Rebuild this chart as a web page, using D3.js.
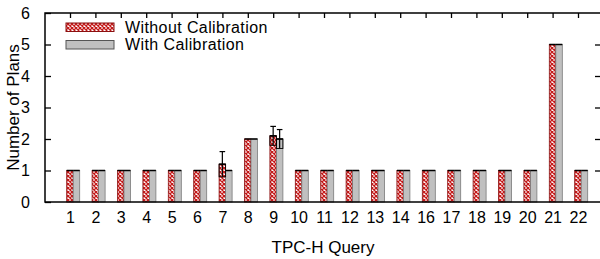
<!DOCTYPE html>
<html>
<head>
<meta charset="utf-8">
<script src="https://cdn.jsdelivr.net/npm/d3@7"></script>
<style>
  body { margin: 0; background: #fff; }
  svg text { font-family: "Liberation Sans", Arial, sans-serif; fill: #000; }
</style>
</head>
<body>
<div id="vis"></div>
<script>
// Chart data
var queries = ['1', '2', '3', '4', '5', '6', '7', '8', '9', '10', '11', '12', '13', '14', '16', '17', '18', '19', '20', '21', '22'];
var withoutCal = [1, 1, 1, 1, 1, 1, 1.2, 2, 2.1, 1, 1, 1, 1, 1, 1, 1, 1, 1, 1, 5, 1];
var withoutErr = [0, 0, 0, 0, 0, 0, 0.4, 0, 0.3, 0, 0, 0, 0, 0, 0, 0, 0, 0, 0, 0, 0];
var withCal = [1, 1, 1, 1, 1, 1, 1, 2, 2, 1, 1, 1, 1, 1, 1, 1, 1, 1, 1, 5, 1];
var withErr = [0, 0, 0, 0, 0, 0, 0, 0, 0.3, 0, 0, 0, 0, 0, 0, 0, 0, 0, 0, 0, 0];
var yTicks = [0, 1, 2, 3, 4, 5, 6];
var seriesNames = ['Without Calibration', 'With Calibration'];

var width = 600, height = 259;
var margin = {top: 13, right: -1, bottom: 57, left: 45};
var plotRight = width - margin.right;
var plotBottom = height - margin.bottom;

var svg = d3.select('#vis').append('svg')
    .attr('width', width)
    .attr('height', height);

var defs = svg.append('defs');
var pat = defs.append('pattern')
    .attr('id', 'checks')
    .attr('patternUnits', 'userSpaceOnUse')
    .attr('width', 4).attr('height', 4);
pat.append('rect').attr('width', 4).attr('height', 4).attr('fill', '#fff');
pat.append('path')
    .attr('d', 'M0,0 L4,4 M4,0 L0,4')
    .attr('stroke', '#c41a1a')
    .attr('stroke-width', 1.3);

// scales
var xScale = d3.scalePoint()
    .domain(queries)
    .range([70, 578]);

var yScale = d3.scaleLinear()
    .domain([0, 6])
    .range([plotBottom, margin.top]);

var barW = 6.5;
var off1 = -3.3;

// bars
var rows = queries.map(function(q, i) {
    return {q: q, a: withoutCal[i], ae: withoutErr[i], b: withCal[i], be: withErr[i]};
});

var g = svg.append('g');

g.selectAll('rect.wo').data(rows).enter().append('rect')
    .attr('class', 'wo')
    .attr('x', function(d) { return xScale(d.q) + off1; })
    .attr('y', function(d) { return yScale(d.a); })
    .attr('width', barW)
    .attr('height', function(d) { return plotBottom - yScale(d.a); })
    .attr('fill', 'url(#checks)')
    .attr('stroke', '#8a1010')
    .attr('stroke-width', 0.8);

g.selectAll('rect.wi').data(rows).enter().append('rect')
    .attr('class', 'wi')
    .attr('x', function(d) { return xScale(d.q) + off1 + barW; })
    .attr('y', function(d) { return yScale(d.b); })
    .attr('width', barW)
    .attr('height', function(d) { return plotBottom - yScale(d.b); })
    .attr('fill', '#c0c0c0')
    .attr('stroke', '#7a7a7a')
    .attr('stroke-width', 0.8);

// black top edges
g.selectAll('line.topa').data(rows).enter().append('line')
    .attr('x1', function(d) { return xScale(d.q) + off1; })
    .attr('x2', function(d) { return xScale(d.q) + off1 + barW; })
    .attr('y1', function(d) { return yScale(d.a); })
    .attr('y2', function(d) { return yScale(d.a); })
    .attr('stroke', '#000').attr('stroke-width', 1.5);
g.selectAll('line.topb').data(rows).enter().append('line')
    .attr('x1', function(d) { return xScale(d.q) + off1 + barW; })
    .attr('x2', function(d) { return xScale(d.q) + off1 + 2 * barW; })
    .attr('y1', function(d) { return yScale(d.b); })
    .attr('y2', function(d) { return yScale(d.b); })
    .attr('stroke', '#000').attr('stroke-width', 1.5);

// error bars
function drawErr(data, valKey, errKey, shift) {
    var eg = g.selectAll(null).data(data.filter(function(d) { return d[errKey] > 0; }))
        .enter().append('g')
        .attr('stroke', '#000').attr('stroke-width', 1.2).attr('fill', 'none');
    eg.append('line')
        .attr('x1', function(d) { return xScale(d.q) + shift; })
        .attr('x2', function(d) { return xScale(d.q) + shift; })
        .attr('y1', function(d) { return yScale(d[valKey] - d[errKey]); })
        .attr('y2', function(d) { return yScale(d[valKey] + d[errKey]); });
    eg.append('line')
        .attr('x1', function(d) { return xScale(d.q) + shift - 2.8; })
        .attr('x2', function(d) { return xScale(d.q) + shift + 2.8; })
        .attr('y1', function(d) { return yScale(d[valKey] + d[errKey]); })
        .attr('y2', function(d) { return yScale(d[valKey] + d[errKey]); });
    eg.append('rect')
        .attr('x', function(d) { return xScale(d.q) + shift - barW / 2; })
        .attr('y', function(d) { return yScale(d[valKey]); })
        .attr('width', barW)
        .attr('height', function(d) { return yScale(d[valKey] - d[errKey]) - yScale(d[valKey]); })
        .attr('stroke-width', 0.9);
}
drawErr(rows, 'a', 'ae', off1 + barW / 2);
drawErr(rows, 'b', 'be', off1 + barW * 1.5);

// frame
var frame = svg.append('g').attr('stroke', '#000').attr('stroke-width', 1.5).attr('fill', 'none');
frame.append('rect')
    .attr('x', margin.left).attr('y', margin.top)
    .attr('width', plotRight - margin.left)
    .attr('height', plotBottom - margin.top);

// y axis (left, ticks inward) and mirror ticks on the right
var yAxis = d3.axisLeft(yScale).tickValues(yTicks).tickSize(-6).tickPadding(15).tickFormat(d3.format('d'));
var gy = svg.append('g')
    .attr('transform', 'translate(' + margin.left + ',0)')
    .call(yAxis);
gy.select('.domain').remove();
gy.selectAll('text').style('font-size', '16px').style('font-family', '"Liberation Sans", Arial, sans-serif');
gy.selectAll('line').attr('stroke-width', 1.3);

var yAxisR = d3.axisRight(yScale).tickValues(yTicks.slice(1, -1)).tickSize(-6).tickFormat('');
var gyr = svg.append('g')
    .attr('transform', 'translate(' + plotRight + ',0)')
    .call(yAxisR);
gyr.select('.domain').remove();
gyr.selectAll('line').attr('stroke-width', 1.3);

// x axis labels at bottom, mirror ticks on top
var xAxis = d3.axisBottom(xScale).tickSize(0).tickPadding(10);
var gx = svg.append('g')
    .attr('transform', 'translate(0,' + plotBottom + ')')
    .call(xAxis);
gx.select('.domain').remove();
gx.selectAll('text').style('font-size', '16px').style('font-family', '"Liberation Sans", Arial, sans-serif');

var xAxisTop = d3.axisTop(xScale).tickSize(-5).tickFormat('');
var gxt = svg.append('g')
    .attr('transform', 'translate(0,' + margin.top + ')')
    .call(xAxisTop);
gxt.select('.domain').remove();
gxt.selectAll('line').attr('stroke-width', 1.3);

// axis titles
svg.append('text')
    .attr('x', (margin.left + plotRight) / 2)
    .attr('y', 253)
    .attr('text-anchor', 'middle')
    .style('font-size', '17px')
    .text('TPC-H Query');

svg.append('text')
    .attr('transform', 'translate(19,' + (margin.top + plotBottom) / 2 + ') rotate(-90)')
    .attr('text-anchor', 'middle')
    .style('font-size', '17px')
    .text('Number of Plans');

// legend
var legend = svg.append('g');
var fills = ['url(#checks)', '#c0c0c0'];
var strokes = ['#8a1010', '#555'];
seriesNames.forEach(function(name, i) {
    legend.append('rect')
        .attr('x', 66).attr('y', 23 + i * 17.5)
        .attr('width', 48).attr('height', 8.5)
        .attr('fill', fills[i])
        .attr('stroke', strokes[i])
        .attr('stroke-width', 1);
    legend.append('text')
        .attr('x', 125).attr('y', 32.5 + i * 17.5)
        .style('font-size', '16px')
        .style('letter-spacing', '0.4px')
        .text(name);
});
</script>
</body>
</html>
